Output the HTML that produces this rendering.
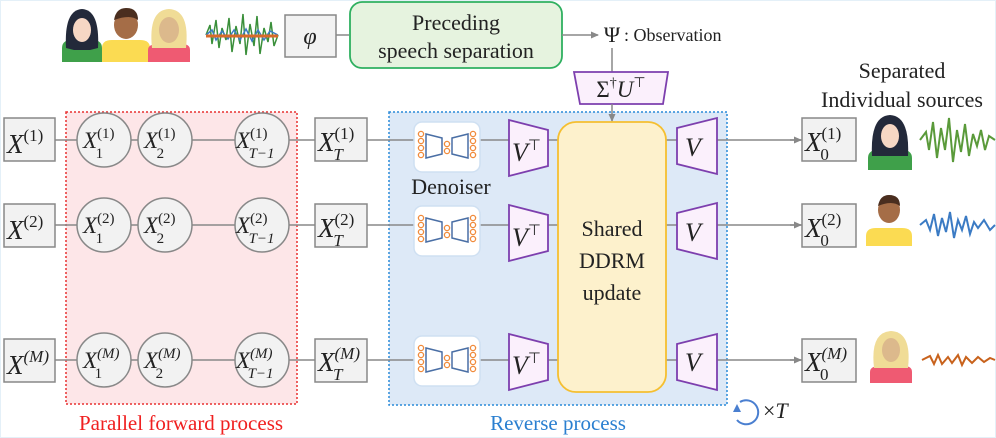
<!DOCTYPE html>
<html><head><meta charset="utf-8"><style>
body{margin:0;background:#fff}
svg{display:block}
text{font-family:"Liberation Serif",serif;fill:#222}
.m{font-style:italic}
</style></head><body>
<svg width="996" height="438" viewBox="0 0 996 438" xmlns="http://www.w3.org/2000/svg">
<defs>
<marker id="ah" markerWidth="8" markerHeight="8" refX="7" refY="4" orient="auto" markerUnits="userSpaceOnUse"><path d="M0,0.5 L8,4 L0,7.5z" fill="#888"/></marker>
<g id="den">
<rect x="0" y="0" width="66" height="50" rx="8" fill="#fff" stroke="#cfe0f2" stroke-width="1.5"/>
<g fill="none" stroke="#f08a3a" stroke-width="1.3">
<circle cx="7" cy="12" r="2.6"/><circle cx="7" cy="19" r="2.6"/><circle cx="7" cy="26" r="2.6"/><circle cx="7" cy="33" r="2.6"/>
<circle cx="33" cy="22" r="2.6"/><circle cx="33" cy="29" r="2.6"/>
<circle cx="59" cy="12" r="2.6"/><circle cx="59" cy="19" r="2.6"/><circle cx="59" cy="26" r="2.6"/><circle cx="59" cy="33" r="2.6"/>
</g>
<path d="M12,12 L28,16 L28,32 L12,36z M38,16 L54,12 L54,36 L38,32z" fill="none" stroke="#4a6fa5" stroke-width="1.5"/>
</g>
<g id="vt"><path d="M0,0 L39,10 L39,46 L0,56z" fill="#fbf0fc" stroke="#7d3fae" stroke-width="1.8"/></g>
<g id="v"><path d="M0,10 L40,0 L40,56 L0,46z" fill="#fbf0fc" stroke="#7d3fae" stroke-width="1.8"/></g>
</defs>
<rect x="0.5" y="0.5" width="995" height="437" fill="#fff" stroke="#e4f0f8"/>

<g>
<path d="M62,62 L62,48 Q62,40 72,40 L92,40 Q102,40 102,48 L102,62z" fill="#3fa04a"/>
<path d="M66,48 Q64,10 82,9 Q100,10 98,48 L90,50 L74,50z" fill="#23293a"/>
<ellipse cx="82" cy="30" rx="9" ry="12" fill="#f6d7c4"/>
<path d="M102,62 L102,48 Q102,40 112,40 L140,40 Q150,40 150,48 L150,62z" fill="#fbdb52"/>
<ellipse cx="126" cy="25" rx="12" ry="14" fill="#a56d47"/>
<path d="M114,20 Q116,8 126,8 Q138,8 138,20 Q130,14 114,20z" fill="#4a2e1f"/>
<path d="M148,62 L148,50 Q148,44 158,44 L182,44 Q190,44 190,50 L190,62z" fill="#ef5a72"/>
<path d="M152,48 Q148,10 169,9 Q190,10 186,48z" fill="#f0dc96"/>
<ellipse cx="169" cy="30" rx="10" ry="13" fill="#dcb98c"/>
</g>
<g stroke-width="1.5">
<path d="M206,35 L210,25 L212,44 L216,20 L219,48 L222,28 L226,40 L229,18 L232,52 L236,26 L240,44 L243,14 L246,55 L250,24 L254,46 L257,16 L260,54 L264,28 L268,42 L271,22 L274,46 L278,35" stroke="#3a8f3a" fill="none"/>
<path d="M206,35 L212,30 L216,40 L222,31 L228,39 L234,30 L240,40 L246,29 L252,41 L258,30 L264,40 L270,31 L278,35" stroke="#3b7bc4" fill="none"/>
<path d="M206,36 L278,36" stroke="#d86a2a" stroke-width="3"/>
</g>
<rect x="285" y="15" width="51" height="42" fill="#f2f2f2" stroke="#888" stroke-width="1.5"/>
<text x="310" y="44" font-size="24" text-anchor="middle" class="m">φ</text>
<line x1="336" y1="35" x2="349" y2="35" stroke="#888" stroke-width="1.5"/>
<rect x="350" y="2" width="212" height="66" rx="12" fill="#e6f3df" stroke="#2fb060" stroke-width="1.8"/>
<text x="456" y="30" font-size="22" text-anchor="middle">Preceding</text>
<text x="456" y="58" font-size="22" text-anchor="middle">speech separation</text>
<line x1="562" y1="35" x2="598" y2="35" stroke="#888" stroke-width="1.5" marker-end="url(#ah)"/>
<text x="612" y="42" font-size="22" text-anchor="middle">Ψ</text>
<text x="624" y="41" font-size="18">: Observation</text>
<line x1="612" y1="48" x2="612" y2="72" stroke="#888" stroke-width="1.5"/>
<path d="M574,72 L668,72 L663,104 L580,104z" fill="#fbf0fc" stroke="#7d3fae" stroke-width="1.8"/>
<text x="621" y="97" font-size="23" text-anchor="middle">Σ<tspan font-size="14" dy="-10">†</tspan><tspan class="m" dy="10">U</tspan><tspan font-size="14" dy="-10">⊤</tspan></text>

<rect x="66" y="112" width="231" height="292" fill="#fde6e8" stroke="#e83030" stroke-width="1.5" stroke-dasharray="2,2"/>
<rect x="389" y="112" width="338" height="293" fill="#dde9f7" stroke="#2a8ad8" stroke-width="1.5" stroke-dasharray="2,2"/>
<line x1="612" y1="104" x2="612" y2="121" stroke="#888" stroke-width="1.5" marker-end="url(#ah)"/>

<g stroke="#888" stroke-width="1.5">
<line x1="55" y1="140" x2="802" y2="140"/>
<line x1="55" y1="225" x2="802" y2="225"/>
<line x1="55" y1="360" x2="802" y2="360"/>
</g>
<g stroke="#888" stroke-width="1.5" fill="none">
<line x1="790" y1="140" x2="801" y2="140" marker-end="url(#ah)"/>
<line x1="790" y1="225" x2="801" y2="225" marker-end="url(#ah)"/>
<line x1="790" y1="360" x2="801" y2="360" marker-end="url(#ah)"/>
</g>

<g fill="#f2f2f2" stroke="#888" stroke-width="1.5">
<rect x="4" y="118" width="51" height="43"/><rect x="4" y="204" width="51" height="43"/><rect x="4" y="339" width="51" height="43"/>
<circle cx="104" cy="140" r="27"/><circle cx="165" cy="140" r="27"/><circle cx="262" cy="140" r="27"/>
<circle cx="104" cy="225" r="27"/><circle cx="165" cy="225" r="27"/><circle cx="262" cy="225" r="27"/>
<circle cx="104" cy="360" r="27"/><circle cx="165" cy="360" r="27"/><circle cx="262" cy="360" r="27"/>
<rect x="315" y="118" width="52" height="43"/><rect x="315" y="204" width="52" height="43"/><rect x="315" y="339" width="52" height="43"/>
<rect x="802" y="118" width="54" height="43"/><rect x="802" y="204" width="54" height="43"/><rect x="802" y="339" width="54" height="43"/>
</g>

<g font-size="27" class="m">
<text x="7" y="153">X<tspan font-size="17" font-style="normal" dy="-12">(1)</tspan></text>
<text x="7" y="239">X<tspan font-size="17" font-style="normal" dy="-12">(2)</tspan></text>
<text x="7" y="374">X<tspan font-size="17" dy="-12">(M)</tspan></text>
</g>
<g font-size="23" class="m">
<text x="83" y="148">X<tspan font-size="15" font-style="normal" dy="-10">(1)</tspan><tspan font-size="15" font-style="normal" dx="-19" dy="20">1</tspan></text>
<text x="144" y="148">X<tspan font-size="15" font-style="normal" dy="-10">(1)</tspan><tspan font-size="15" font-style="normal" dx="-19" dy="20">2</tspan></text>
<text x="236" y="148">X<tspan font-size="15" font-style="normal" dy="-10">(1)</tspan><tspan font-size="15" dx="-19" dy="20">T−1</tspan></text>
<text x="83" y="233">X<tspan font-size="15" font-style="normal" dy="-10">(2)</tspan><tspan font-size="15" font-style="normal" dx="-19" dy="20">1</tspan></text>
<text x="144" y="233">X<tspan font-size="15" font-style="normal" dy="-10">(2)</tspan><tspan font-size="15" font-style="normal" dx="-19" dy="20">2</tspan></text>
<text x="236" y="233">X<tspan font-size="15" font-style="normal" dy="-10">(2)</tspan><tspan font-size="15" dx="-19" dy="20">T−1</tspan></text>
<text x="83" y="368">X<tspan font-size="15" dy="-10">(M)</tspan><tspan font-size="15" font-style="normal" dx="-25" dy="20">1</tspan></text>
<text x="144" y="368">X<tspan font-size="15" dy="-10">(M)</tspan><tspan font-size="15" font-style="normal" dx="-25" dy="20">2</tspan></text>
<text x="236" y="368">X<tspan font-size="15" dy="-10">(M)</tspan><tspan font-size="15" dx="-25" dy="20">T−1</tspan></text>
</g>
<g font-size="27" class="m">
<text x="318" y="151">X<tspan font-size="17" font-style="normal" dy="-12">(1)</tspan><tspan font-size="17" dx="-21" dy="21">T</tspan></text>
<text x="318" y="237">X<tspan font-size="17" font-style="normal" dy="-12">(2)</tspan><tspan font-size="17" dx="-21" dy="21">T</tspan></text>
<text x="318" y="371">X<tspan font-size="17" dy="-12">(M)</tspan><tspan font-size="17" dx="-27" dy="21">T</tspan></text>
<text x="805" y="151">X<tspan font-size="17" font-style="normal" dy="-12">(1)</tspan><tspan font-size="17" font-style="normal" dx="-21" dy="21">0</tspan></text>
<text x="805" y="237">X<tspan font-size="17" font-style="normal" dy="-12">(2)</tspan><tspan font-size="17" font-style="normal" dx="-21" dy="21">0</tspan></text>
<text x="805" y="371">X<tspan font-size="17" dy="-12">(M)</tspan><tspan font-size="17" font-style="normal" dx="-27" dy="21">0</tspan></text>
</g>

<use href="#den" x="414" y="122"/><use href="#den" x="414" y="206"/><use href="#den" x="414" y="336"/>
<text x="451" y="194" font-size="22" text-anchor="middle">Denoiser</text>
<use href="#vt" x="509" y="120"/><use href="#vt" x="509" y="205"/><use href="#vt" x="509" y="334"/>
<g font-size="26" class="m"><text x="512" y="161">V<tspan font-size="15" font-style="normal" dy="-11">⊤</tspan></text>
<text x="512" y="246">V<tspan font-size="15" font-style="normal" dy="-11">⊤</tspan></text>
<text x="512" y="374">V<tspan font-size="15" font-style="normal" dy="-11">⊤</tspan></text></g>
<rect x="558" y="122" width="108" height="270" rx="18" fill="#fdf1cc" stroke="#f5bf30" stroke-width="1.8"/>
<text x="612" y="236" font-size="22" text-anchor="middle">Shared</text>
<text x="612" y="268" font-size="22" text-anchor="middle">DDRM</text>
<text x="612" y="300" font-size="22" text-anchor="middle">update</text>
<use href="#v" x="677" y="118"/><use href="#v" x="677" y="203"/><use href="#v" x="677" y="334"/>
<g font-size="26" class="m"><text x="685" y="156">V</text><text x="685" y="241">V</text><text x="685" y="371">V</text></g>

<g>
<path d="M868,170 L868,158 Q868,150 878,150 L902,150 Q912,150 912,158 L912,170z" fill="#3fa04a"/>
<path d="M872,156 Q870,116 890,115 Q910,116 908,156z" fill="#23293a"/>
<ellipse cx="890" cy="136" rx="9" ry="12" fill="#f6d7c4"/>
<path d="M866,246 L866,236 Q866,228 876,228 L902,228 Q912,228 912,236 L912,246z" fill="#fbdb52"/>
<ellipse cx="889" cy="210" rx="11" ry="13" fill="#a56d47"/>
<path d="M878,206 Q880,195 889,195 Q900,195 900,206 Q892,200 878,206z" fill="#4a2e1f"/>
<path d="M870,383 L870,372 Q870,366 880,366 L904,366 Q912,366 912,372 L912,383z" fill="#ef5a72"/>
<path d="M874,368 Q870,332 891,331 Q912,332 908,368z" fill="#f0dc96"/>
<ellipse cx="891" cy="350" rx="9" ry="12" fill="#dcb98c"/>
</g>
<path d="M920,140 L926,132 L929,150 L933,122 L937,158 L941,128 L945,150 L949,118 L953,162 L957,130 L961,152 L965,124 L969,156 L973,134 L977,146 L981,130 L985,150 L989,136 L995,140" stroke="#5a9a3a" stroke-width="2" fill="none"/>
<path d="M920,225 L926,220 L930,230 L934,214 L938,236 L942,218 L946,232 L950,212 L954,238 L958,220 L962,230 L966,216 L970,234 L974,222 L978,228 L984,220 L990,230 L995,225" stroke="#3b7bc4" stroke-width="2" fill="none"/>
<path d="M922,360 L930,356 L934,364 L938,355 L942,364 L948,357 L952,363 L958,355 L962,365 L966,357 L972,363 L978,357 L984,362 L990,358 L995,360" stroke="#c8621c" stroke-width="2" fill="none"/>

<text x="902" y="78" font-size="22" text-anchor="middle">Separated</text>
<text x="902" y="107" font-size="22" text-anchor="middle">Individual sources</text>

<text x="181" y="430" font-size="21" text-anchor="middle" style="fill:#f02020">Parallel forward process</text>
<text x="558" y="430" font-size="21" text-anchor="middle" style="fill:#2a7fd0">Reverse process</text>
<path d="M740,402 A12,12 0 1 1 737,420" fill="none" stroke="#4a7fd0" stroke-width="2"/>
<path d="M733,412 L737,404 L741,412z" fill="#4a7fd0"/>
<text x="763" y="418" font-size="22">×<tspan class="m">T</tspan></text>
</svg>
</body></html>
